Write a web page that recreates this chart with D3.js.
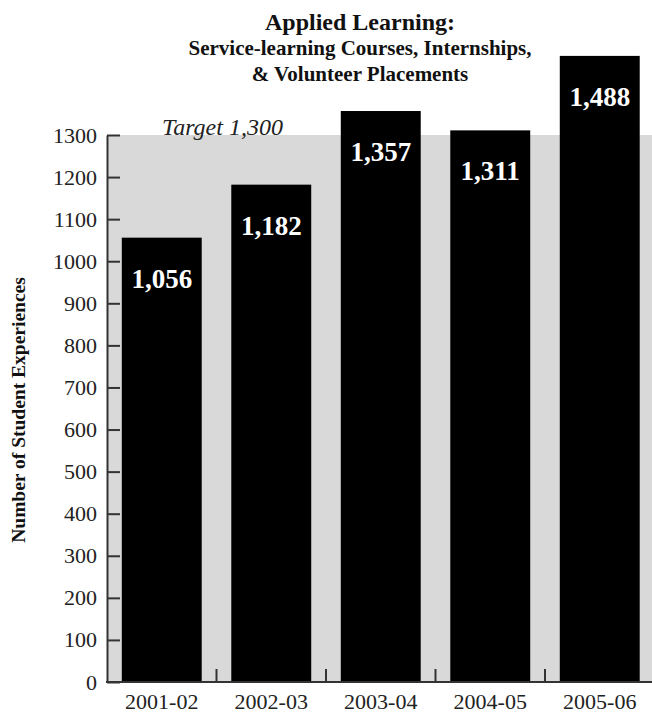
<!DOCTYPE html>
<html>
<head>
<meta charset="utf-8">
<script src="https://cdn.jsdelivr.net/npm/d3@7"></script>
<style>
  html, body { margin: 0; padding: 0; background: #fff; }
  svg { display: block; }
  text { font-family: "Liberation Serif", "Times New Roman", serif; }
</style>
</head>
<body>
<svg id="chart" width="652" height="715"></svg>
<script>
// Applied learning experiences per academic year
const categories = ["2001-02", "2002-03", "2003-04", "2004-05", "2005-06"];
const values = [1056, 1182, 1357, 1311, 1488];
const target = 1300;
const targetLabel = "Target 1,300";
const yTickValues = [0, 100, 200, 300, 400, 500, 600, 700, 800, 900, 1000, 1100, 1200, 1300];
const titleLines = [
  "Applied Learning:",
  "Service-learning Courses, Internships,",
  "& Volunteer Placements"
];
const yAxisTitle = "Number of Student Experiences";

const W = 652, H = 715;
const plotLeft = 107, plotBottom = 682, plotTop = 135;
const svg = d3.select("#chart");

const x = d3.scaleBand()
  .domain(categories)
  .range([plotLeft, 654.5])
  .paddingInner(0.27)
  .paddingOuter(0.135);

const y = d3.scaleLinear()
  .domain([0, target])
  .range([plotBottom, plotTop]);

const fmt = d3.format(",");
const axisColor = "#333";

// target band: shaded area from zero up to the target value
svg.append("rect")
  .attr("x", plotLeft)
  .attr("y", y(target))
  .attr("width", W - plotLeft)
  .attr("height", y(0) - y(target))
  .attr("fill", "#d9d9d9");

// bars
svg.append("g").selectAll("rect")
  .data(values)
  .join("rect")
  .attr("x", (d, i) => x(categories[i]))
  .attr("y", d => y(d))
  .attr("width", x.bandwidth())
  .attr("height", d => y(0) - y(d))
  .attr("fill", "#000");

// value labels inside bars
svg.append("g").selectAll("text")
  .data(values)
  .join("text")
  .attr("x", (d, i) => x(categories[i]) + x.bandwidth() / 2)
  .attr("y", d => y(d) + 50)
  .attr("text-anchor", "middle")
  .attr("fill", "#fff")
  .attr("font-size", 27)
  .attr("font-weight", "bold")
  .text(d => fmt(d));

// y axis with ticks pointing inward
const yAxis = svg.append("g")
  .attr("transform", `translate(${plotLeft},0)`)
  .call(d3.axisLeft(y).tickValues(yTickValues).tickSize(-13).tickSizeOuter(0).tickPadding(10).tickFormat(d3.format("d")));
yAxis.select(".domain").attr("stroke", axisColor).attr("stroke-width", 2);
yAxis.selectAll(".tick line").attr("stroke", axisColor).attr("stroke-width", 2);
yAxis.selectAll(".tick text")
  .attr("font-size", 22)
  .attr("fill", "#222")
  .style("font-family", "'Liberation Serif', 'Times New Roman', serif");

// x axis labels centred under bars
const xAxis = svg.append("g")
  .attr("transform", `translate(0,${plotBottom})`)
  .call(d3.axisBottom(x).tickSize(0).tickPadding(11));
xAxis.select(".domain").remove();
xAxis.selectAll(".tick text")
  .attr("font-size", 22)
  .attr("fill", "#222")
  .style("font-family", "'Liberation Serif', 'Times New Roman', serif");

// category separators on the baseline
const gap = x.step() - x.bandwidth();
svg.append("g").selectAll("line")
  .data(categories.slice(0, -1))
  .join("line")
  .attr("x1", d => x(d) + x.bandwidth() + gap / 2)
  .attr("x2", d => x(d) + x.bandwidth() + gap / 2)
  .attr("y1", plotBottom)
  .attr("y2", plotBottom - 13)
  .attr("stroke", axisColor)
  .attr("stroke-width", 2);

// baseline across the full width
svg.append("line")
  .attr("x1", plotLeft - 1)
  .attr("x2", W)
  .attr("y1", plotBottom)
  .attr("y2", plotBottom)
  .attr("stroke", axisColor)
  .attr("stroke-width", 2);

// target label
svg.append("text")
  .attr("x", 162)
  .attr("y", y(target))
  .attr("font-size", 24)
  .attr("font-style", "italic")
  .attr("fill", "#222")
  .text(targetLabel);

// title
const titleSizes = [24, 21, 21];
const titleY = [30, 55, 81];
svg.append("g").selectAll("text")
  .data(titleLines)
  .join("text")
  .attr("x", 360)
  .attr("y", (d, i) => titleY[i])
  .attr("text-anchor", "middle")
  .attr("font-size", (d, i) => titleSizes[i])
  .attr("font-weight", "bold")
  .attr("fill", "#111")
  .text(d => d);

// y axis title
svg.append("text")
  .attr("transform", "translate(25,410) rotate(-90)")
  .attr("text-anchor", "middle")
  .attr("font-size", 19.5)
  .attr("font-weight", "bold")
  .attr("fill", "#111")
  .text(yAxisTitle);
</script>
</body>
</html>
